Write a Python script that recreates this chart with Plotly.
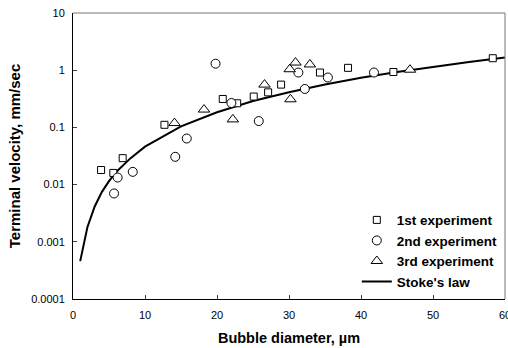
import plotly.graph_objects as go

# 1st experiment (squares)
exp1_d = [3.9, 5.6, 6.9, 12.7, 20.8, 22.8, 25.1, 27.1, 28.9, 34.3, 38.2, 44.5, 58.3]
exp1_v = [0.018, 0.016, 0.029, 0.111, 0.314, 0.264, 0.346, 0.41, 0.56, 0.91, 1.10, 0.93, 1.62]

# 2nd experiment (circles)
exp2_d = [5.7, 6.2, 8.3, 14.2, 15.8, 19.8, 22.0, 25.8, 31.3, 32.2, 35.4, 41.8]
exp2_v = [0.0070, 0.0133, 0.0167, 0.0306, 0.064, 1.30, 0.267, 0.129, 0.91, 0.47, 0.745, 0.91]

# 3rd experiment (triangles)
exp3_d = [14.1, 18.2, 22.2, 26.6, 30.2, 30.1, 30.9, 32.9, 46.8]
exp3_v = [0.119, 0.205, 0.138, 0.56, 0.31, 1.04, 1.36, 1.26, 1.02]

# Stoke's law curve
stokes_d = [1, 2, 3, 4, 5, 6, 8, 10, 15, 20, 25, 30, 35, 40, 45, 50, 55, 60]
stokes_v = [0.00046, 0.0018, 0.0041, 0.0074, 0.0115, 0.0166, 0.029, 0.046, 0.104,
            0.184, 0.29, 0.41, 0.56, 0.74, 0.93, 1.15, 1.39, 1.66]

y_tickvals = [0.0001, 0.001, 0.01, 0.1, 1, 10]
y_ticktext = ["0.0001", "0.001", "0.01", "0.1", "1", "10"]
x_tickvals = [0, 10, 20, 30, 40, 50, 60]

FONT = "Liberation Sans, Arial, sans-serif"

fig = go.Figure()
fig.add_trace(go.Scatter(x=stokes_d, y=stokes_v, mode="lines", name="Stoke's law",
                         line=dict(color="black", width=2), legendrank=4))
mk = dict(color="white", line=dict(color="black", width=1))
fig.add_trace(go.Scatter(x=exp1_d, y=exp1_v, mode="markers", name="1st experiment",
                         marker=dict(symbol="square", size=7, **mk), legendrank=1))
fig.add_trace(go.Scatter(x=exp2_d, y=exp2_v, mode="markers", name="2nd experiment",
                         marker=dict(symbol="circle", size=9, **mk), legendrank=2))
fig.add_trace(go.Scatter(x=exp3_d, y=exp3_v, mode="markers", name="3rd experiment",
                         marker=dict(symbol="triangle-up", size=10, **mk), legendrank=3))

fig.update_layout(
    width=508, height=348,
    margin=dict(l=73, r=3, t=13, b=49, autoexpand=False),
    paper_bgcolor="white", plot_bgcolor="white",
    font=dict(family=FONT, size=11, color="black"),
    showlegend=True,
    legend=dict(x=0.657, y=0.33, xanchor="left", yanchor="top",
                bgcolor="rgba(0,0,0,0)", font=dict(size=13.5, family=FONT, weight="bold"),
                tracegroupgap=0, itemwidth=30),
    xaxis=dict(range=[0, 60], tickvals=x_tickvals, ticks="inside", ticklen=4,
               ticklabelstandoff=6, ticklabeloverflow="allow", automargin=False,
               showline=True, linecolor="black", linewidth=1, showgrid=False, zeroline=False,
               title=dict(text="Bubble diameter, µm", font=dict(size=14.5, weight="bold"), standoff=12)),
    yaxis=dict(type="log", range=[-4, 1], tickvals=y_tickvals, ticktext=y_ticktext,
               ticks="inside", ticklen=4, ticklabelstandoff=5, automargin=False,
               showline=True, linecolor="black", linewidth=1,
               showgrid=False, zeroline=False,
               title=dict(text="Terminal velocity, mm/sec", font=dict(size=15, weight="bold"), standoff=6)),
    shapes=[dict(type="line", xref="paper", yref="paper", x0=0, x1=1, y0=1, y1=1,
                 line=dict(color="#777777", width=1)),
            dict(type="line", xref="paper", yref="paper", x0=1, x1=1, y0=0, y1=1,
                 line=dict(color="#777777", width=1))],
)

fig.write_html("out.html", post_script="document.body.style.margin='0px';",
               config={"displayModeBar": False})
